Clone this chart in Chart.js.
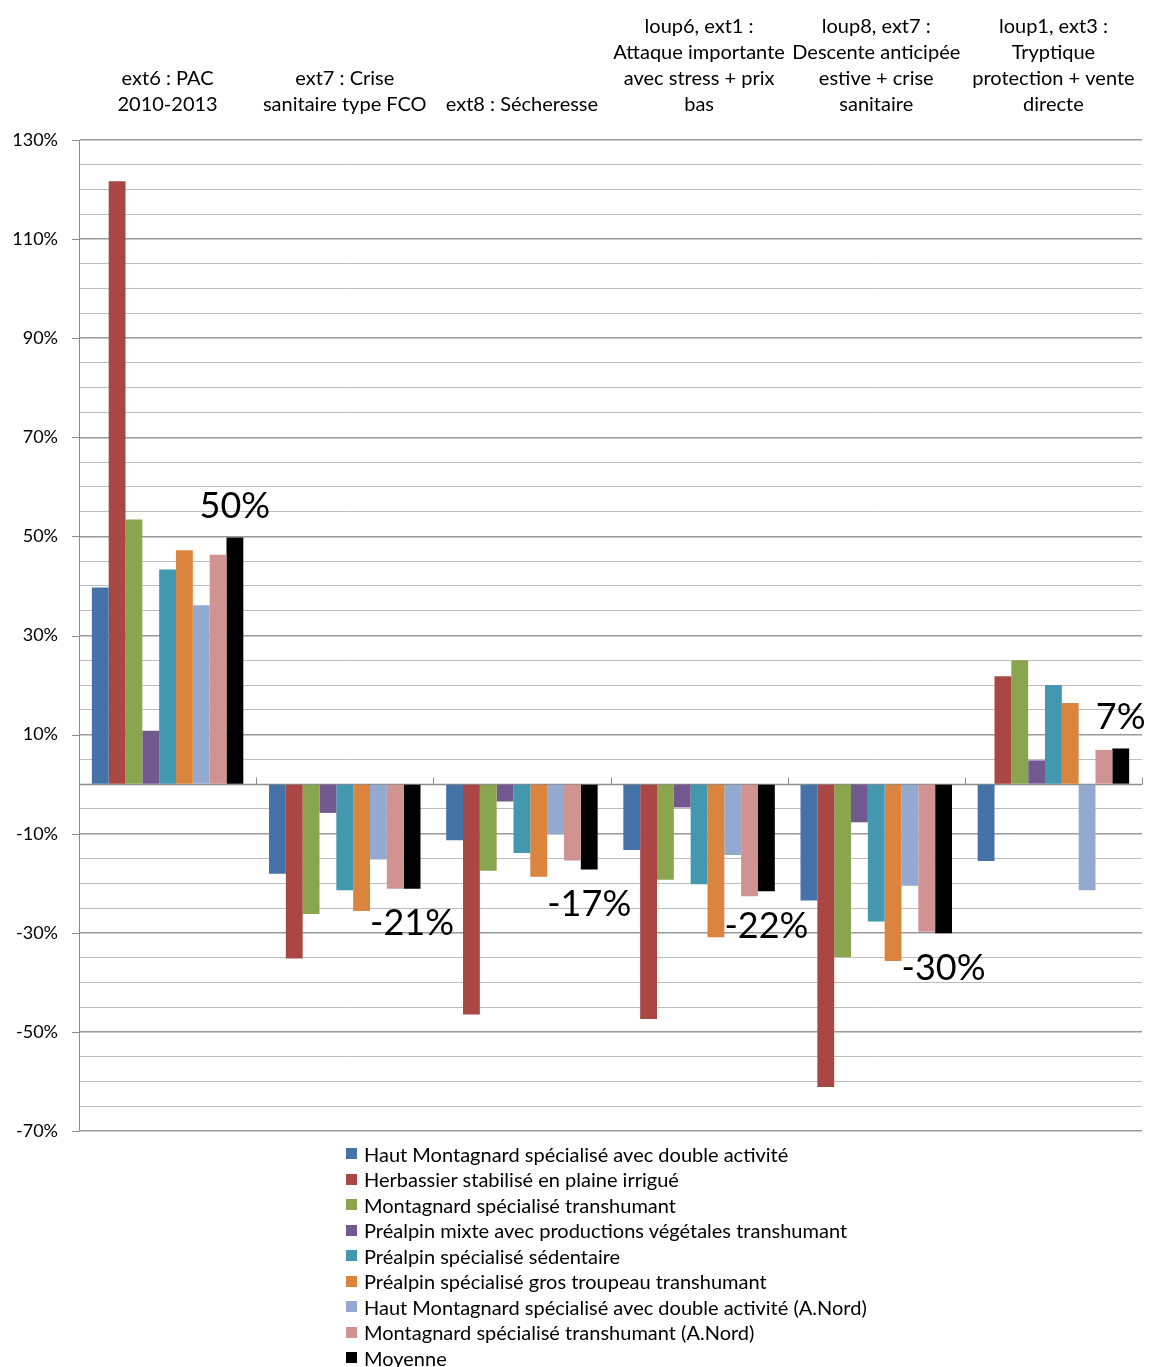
<!DOCTYPE html>
<html><head><meta charset="utf-8">
<script src="https://cdn.jsdelivr.net/npm/chart.js@4/dist/chart.umd.min.js"></script>
<style>
html,body{margin:0;padding:0;background:#fff;}
#wrap{position:relative;width:1149px;height:1367px;overflow:hidden;}
#legend{position:absolute;left:346px;top:1141px;font-family:Lato,'Open Sans',sans-serif;font-size:20px;color:#000;}
.item{height:25.5px;display:flex;align-items:center;white-space:nowrap;}
.sw{width:11px;height:11px;margin-right:7px;flex:none;}
</style></head><body>
<div id="wrap"><canvas id="c" width="1149" height="1367"></canvas><div id="legend"></div></div>
<script>
const categories = [
  ["ext6 : PAC", "2010-2013"],
  ["ext7 : Crise", "sanitaire type FCO"],
  ["ext8 : Sécheresse"],
  ["loup6, ext1 :", "Attaque importante", "avec stress + prix", "bas"],
  ["loup8, ext7 :", "Descente anticipée", "estive + crise", "sanitaire"],
  ["loup1, ext3 :", "Tryptique", "protection + vente", "directe"]
];
const seriesNames = [
  "Haut Montagnard spécialisé avec double activité",
  "Herbassier stabilisé en plaine irrigué",
  "Montagnard spécialisé transhumant",
  "Préalpin mixte avec productions végétales transhumant",
  "Préalpin spécialisé sédentaire",
  "Préalpin spécialisé gros troupeau transhumant",
  "Haut Montagnard spécialisé avec double activité (A.Nord)",
  "Montagnard spécialisé transhumant (A.Nord)",
  "Moyenne"
];
const seriesColors = ["#4572A7","#AA4643","#89A54E","#71588F","#4198AF","#DB843D","#93A9CF","#D19392","#000000"];

const hautMontagnardDouble   = [39.7, -18.1, -11.3, -13.3, -23.5, -15.5];
const herbassierPlaine       = [121.7, -35.2, -46.5, -47.4, -61.1, 21.8];
const montagnardTranshumant  = [53.4, -26.2, -17.5, -19.3, -34.9, 25.0];
const prealpinMixte          = [10.8, -5.8, -3.5, -4.7, -7.7, 4.8];
const prealpinSedentaire     = [43.3, -21.4, -13.9, -20.2, -27.7, 20.0];
const prealpinGrosTroupeau   = [47.2, -25.6, -18.7, -30.9, -35.7, 16.4];
const hautMontagnardNord     = [36.1, -15.2, -10.1, -14.3, -20.5, -21.4];
const montagnardNord         = [46.3, -21.1, -15.4, -22.6, -29.8, 6.9];
const moyenne                = [49.8, -21.1, -17.2, -21.6, -30.1, 7.2];

const seriesValues = [hautMontagnardDouble, herbassierPlaine, montagnardTranshumant, prealpinMixte,
  prealpinSedentaire, prealpinGrosTroupeau, hautMontagnardNord, montagnardNord, moyenne];

const yMin = -70, yMax = 130, yStep = 5, yLabelEvery = 20;
const FONT = "Lato, 'Open Sans', sans-serif";
const isMajor = v => Math.round(v - yMin) % yLabelEvery === 0;

const extras = {
  id: 'extras',
  beforeDatasetsDraw(chart) {
    const ctx = chart.ctx, x = chart.scales.x, y = chart.scales.y, a = chart.chartArea;
    const y0 = Math.round(y.getPixelForValue(0)) + 0.5;
    ctx.save();
    ctx.strokeStyle = '#8c8c8c';
    ctx.lineWidth = 1.5;
    ctx.beginPath(); ctx.moveTo(a.left, y0); ctx.lineTo(a.right, y0); ctx.stroke();
    ctx.lineWidth = 1;
    for (let i = 0; i < categories.length; i++) {
      const bx = Math.round(x.getPixelForValue(i + 0.5)) + 0.5;
      ctx.beginPath(); ctx.moveTo(bx, y0); ctx.lineTo(bx, y0 - 7); ctx.stroke();
    }
    y.ticks.forEach(t => {
      if (isMajor(t.value)) {
        const py = Math.round(y.getPixelForValue(t.value)) + 0.5;
        ctx.beginPath(); ctx.moveTo(a.left - 7, py); ctx.lineTo(a.left, py); ctx.stroke();
      }
    });
    ctx.restore();
  },
  afterDatasetsDraw(chart) {
    const ctx = chart.ctx;
    const last = chart.data.datasets.length - 1;
    const meta = chart.getDatasetMeta(last);
    ctx.save();
    ctx.font = '36px ' + FONT;
    ctx.fillStyle = '#000';
    ctx.textAlign = 'center';
    ctx.textBaseline = 'middle';
    meta.data.forEach((bar, i) => {
      const v = chart.data.datasets[last].data[i];
      const ty = v >= 0 ? bar.y - 31 : bar.y + 35;
      ctx.fillText(Math.round(v) + '%', bar.x, ty);
    });
    ctx.restore();
  }
};

const chart = new Chart(document.getElementById('c'), {
  type: 'bar',
  data: {
    labels: categories,
    datasets: seriesNames.map((n, i) => ({
      label: n,
      data: seriesValues[i],
      backgroundColor: seriesColors[i],
      borderWidth: 0,
      barPercentage: 1,
      categoryPercentage: 0.855
    }))
  },
  options: {
    responsive: false,
    animation: false,
    devicePixelRatio: 1,
    layout: { padding: { left: 0, right: 7, top: 0, bottom: 236 } },
    plugins: { legend: { display: false }, tooltip: { enabled: false } },
    scales: {
      x: {
        position: 'top',
        grid: { display: false, drawTicks: false },
        border: { display: false },
        ticks: { font: { family: FONT, size: 20, lineHeight: 1.3 }, color: '#000', padding: 22, maxRotation: 0, autoSkip: false },
        afterFit: s => { s.height = 140; s.paddingLeft = 0; s.paddingRight = 0; }
      },
      y: {
        min: yMin, max: yMax,
        grid: {
          drawTicks: false,
          color: c => isMajor(c.tick.value) ? '#9a9a9a' : '#bdbdbd',
          lineWidth: c => isMajor(c.tick.value) ? 1.6 : 1
        },
        border: { display: true, color: '#8c8c8c', width: 1 },
        ticks: {
          stepSize: yStep,
          autoSkip: false,
          font: { family: FONT, size: 18 },
          color: '#000',
          padding: 21,
          callback: v => isMajor(v) ? v + '%' : ''
        },
        afterFit: s => { s.width = 79; }
      }
    }
  },
  plugins: [extras]
});

const leg = document.getElementById('legend');
chart.data.datasets.forEach(d => {
  const it = document.createElement('div'); it.className = 'item';
  const sw = document.createElement('span'); sw.className = 'sw'; sw.style.background = d.backgroundColor;
  const tx = document.createElement('span'); tx.textContent = d.label;
  it.appendChild(sw); it.appendChild(tx); leg.appendChild(it);
});
</script>
</body></html>
